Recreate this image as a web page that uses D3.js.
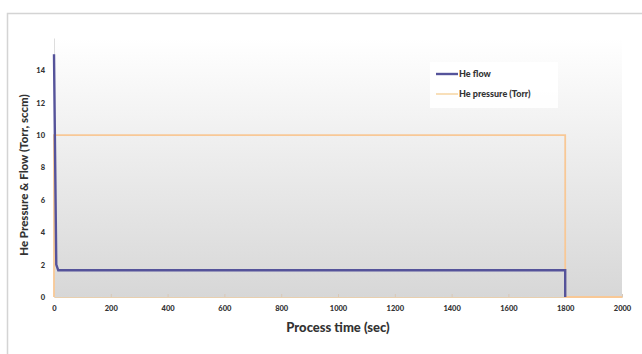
<!DOCTYPE html>
<html><head><meta charset="utf-8">
<script src="https://cdn.jsdelivr.net/npm/d3@7"></script>
<style>body{margin:0;background:#fff}svg{display:block}text{font-family:Lato,"Open Sans",sans-serif}</style>
</head><body><svg id="c" width="642" height="354"></svg>
<script>
const xTicks=[0,200,400,600,800,1000,1200,1400,1600,1800,2000];
const yTicks=[0,2,4,6,8,10,12,14];
const flowTime=[0,8,15,1800,1800];
const flowValue=[15,2,1.65,1.65,0];
const pressureTime=[0,0,1800,1800,2000];
const pressureValue=[0,10,10,0,0];
const seriesNames=["He flow","He pressure (Torr)"];

const svg=d3.select("#c");
const x=d3.scaleLinear().domain([0,2000]).range([54,622]);
const y=d3.scaleLinear().domain([0,16]).range([297,38]);

svg.append("rect").attr("x",7.5).attr("y",13.5).attr("width",640).attr("height",345)
  .attr("fill","#fff").attr("stroke","#d4d4d4").attr("stroke-width",1.5);

const defs=svg.append("defs");
const g=defs.append("linearGradient").attr("id","bg").attr("x1",0).attr("x2",0).attr("y1",0).attr("y2",1);
g.append("stop").attr("offset","0%").attr("stop-color","#ffffff");
g.append("stop").attr("offset","100%").attr("stop-color","#d7d7d7");
svg.append("rect").attr("x",x(0)).attr("y",y(16)).attr("width",x(2000)-x(0)).attr("height",y(0)-y(16)).attr("fill","url(#bg)");

// axes
const xa=svg.append("g").attr("transform",`translate(0,${y(0)})`)
  .call(d3.axisBottom(x).tickValues(xTicks).tickSize(-3).tickPadding(9).tickFormat(d3.format("d")));
xa.select(".domain").attr("stroke","#e8cfae");
xa.selectAll(".tick line").attr("stroke","#d8c8b8");
xa.selectAll("text").attr("font-size",7.5).attr("font-weight","900").attr("fill","#333").attr("font-family","Lato");

const ya=svg.append("g").attr("transform",`translate(${x(0)},0)`)
  .call(d3.axisLeft(y).tickValues(yTicks).tickSize(0).tickPadding(9).tickFormat(d3.format("d")));
ya.select(".domain").attr("stroke","#dddddd");
ya.selectAll("text").attr("font-size",7.5).attr("font-weight","900").attr("fill","#333").attr("font-family","Lato");

const line=d3.line().x(d=>x(d[0])).y(d=>y(d[1]));
const pData=pressureTime.map((t,i)=>[t,pressureValue[i]]);
const fData=flowTime.map((t,i)=>[t,flowValue[i]]);
svg.append("path").datum(pData).attr("d",line).attr("fill","none").attr("stroke","#f8c896").attr("stroke-width",1.8);
svg.append("path").datum(fData).attr("d",line).attr("fill","none").attr("stroke","#55539a").attr("stroke-width",2.4);

// legend
const lg=svg.append("g");
lg.append("rect").attr("x",430).attr("y",62).attr("width",128).attr("height",46).attr("fill","#fff").attr("opacity",0.9);
const colors=["#55539a","#f7d7a8"];
const widths=[2.4,1.6];
seriesNames.forEach((n,i)=>{
  const yy=74+i*20;
  lg.append("line").attr("x1",436).attr("x2",458).attr("y1",yy).attr("y2",yy).attr("stroke",colors[i]).attr("stroke-width",widths[i]);
  lg.append("text").attr("x",459).attr("y",yy+3).attr("font-size",9).attr("font-weight","900").attr("fill","#333").text(n);
});

svg.append("text").attr("x",338).attr("y",332).attr("text-anchor","middle").attr("font-size",13).attr("font-weight","900").attr("fill","#333").text("Process time (sec)");
svg.append("text").attr("transform","translate(28,175) rotate(-90)").attr("text-anchor","middle").attr("font-size",11.5).attr("font-weight","900").attr("fill","#333").text("He Pressure & Flow (Torr, sccm)");
</script></body></html>
